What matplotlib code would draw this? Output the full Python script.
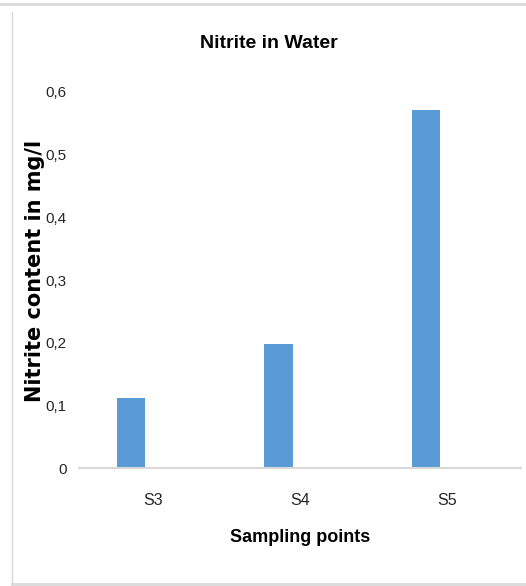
import matplotlib.pyplot as plt
from matplotlib.lines import Line2D

# ----- data ----- #
sites = ["S3", "S4", "S5"]
nitrite = [0.112, 0.198, 0.572]
yticks = [0, 0.1, 0.2, 0.3, 0.4, 0.5, 0.6]
yticklabels = ["0", "0,1", "0,2", "0,3", "0,4", "0,5", "0,6"]

narrow = "Liberation Sans"

fig = plt.figure(figsize=(5.26, 5.86), dpi=100)
ax = fig.add_axes([79 / 526, 118 / 586, 442 / 526, 376 / 586])

x = range(len(sites))
ax.bar([i - 0.146 for i in x], nitrite, width=0.194, color="#5B9BD5")

ax.set_xlim(-0.5, 2.5)
ax.set_ylim(0, 0.6)
ax.set_xticks(list(x))
ax.set_xticklabels(sites, family=narrow, fontsize=11.5)
ax.set_yticks(yticks)
ax.set_yticklabels(yticklabels, family=narrow, fontsize=11)
ax.tick_params(length=0, colors="#262626")
ax.tick_params(axis="x", pad=18)
ax.tick_params(axis="y", pad=9)
for s in ["top", "right", "left"]:
    ax.spines[s].set_visible(False)
ax.spines["bottom"].set_color("#D9D9D9")
ax.spines["bottom"].set_linewidth(1.5)

fig.text(269 / 526, 1 - 43 / 586, "Nitrite in Water", ha="center", va="center",
         family=narrow, fontweight="bold", fontsize=14)
fig.text(300 / 526, 1 - 538 / 586, "Sampling points", ha="center", va="center",
         family=narrow, fontweight="bold", fontsize=13)
fig.text(35 / 526, 1 - 271 / 586, "Nitrite content in mg/l", ha="center", va="center",
         rotation=90, fontweight="bold", fontsize=15)

# chart frame
fig.add_artist(Line2D([0, 1], [1 - 4 / 586] * 2, color="#D9D9D9", lw=2))
fig.add_artist(Line2D([12 / 526] * 2, [1 - 12 / 586, 1 - 585 / 586], color="#D9D9D9", lw=1))
fig.add_artist(Line2D([12 / 526, 1], [1 - 584 / 586] * 2, color="#D9D9D9", lw=2))

fig.savefig("out.png", dpi=100)
